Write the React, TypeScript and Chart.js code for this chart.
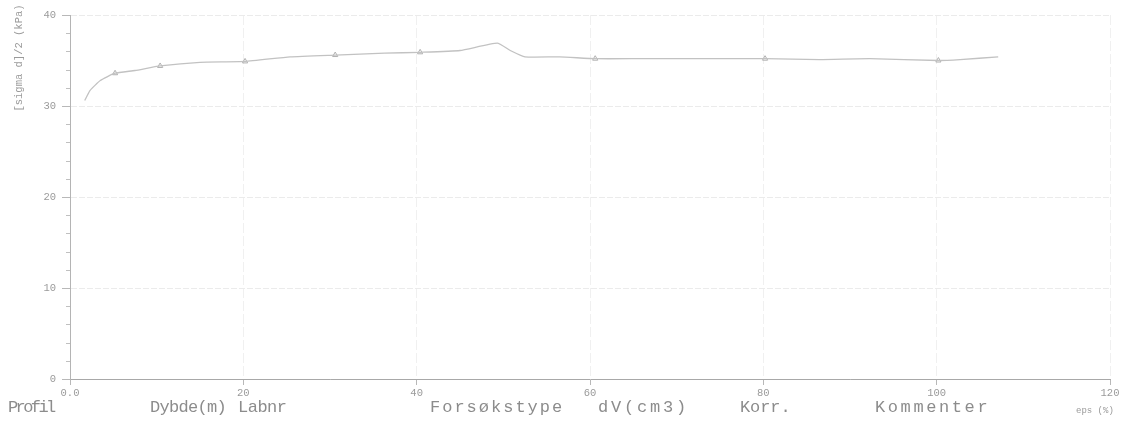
import React, { useEffect, useRef } from "react";
import { Chart, registerables } from "chart.js";
Chart.register(...registerables);

const epsValues: number[] = [1.7, 2.3, 3.5, 5.2, 7.5, 10.4, 15, 20.2, 25.4, 30.6, 36.3, 40.4, 45, 49.3, 50.8, 52.5, 56.5, 60.6, 65.8, 72.7, 80.2, 86.5, 92.3, 100.2, 102.7, 107.1];
const stressValues: number[] = [30.6, 31.7, 32.8, 33.6, 33.9, 34.4, 34.8, 34.9, 35.4, 35.6, 35.8, 35.9, 36.1, 36.9, 36.1, 35.4, 35.4, 35.2, 35.2, 35.2, 35.2, 35.1, 35.2, 35.0, 35.1, 35.4];
const markerEps: number[] = [5.2, 10.4, 20.2, 30.6, 40.4, 60.6, 80.2, 100.2];
const markerValues: number[] = [33.6, 34.4, 34.9, 35.6, 35.9, 35.2, 35.2, 35.0];
const xTickLabels: Record<number, string> = { 0: "0.0", 20: "20", 40: "40", 60: "60", 80: "80", 100: "100", 120: "120" };
const yTickLabels: Record<number, string> = { 0: "0", 10: "10", 20: "20", 30: "30", 40: "40" };
const headerLabels: string[] = ["Profil", "Dybde(m)", "Labnr", "Forsøkstype", "dV(cm3)", "Korr.", "Kommenter"];
const headerX: number[] = [8, 150, 238, 430, 598, 740, 875];
const headerSpacing: number[] = [-2.6, -0.7, -0.5, 2.0, 2.8, -0.1, 2.6];
const yTitle = "[sigma d]/2 (kPa)";
const xTitle = "eps (%)";

export default function App() {
  const ref = useRef<HTMLCanvasElement | null>(null);
  useEffect(() => {
    if (!ref.current) return;
    const extrasPlugin = {
      id: "extras",
      afterDraw(chart: any) {
        const ctx = chart.ctx;
        const ys = chart.scales.y;
        const left = chart.chartArea.left;
        ctx.save();
        ctx.strokeStyle = "#c0c0c0";
        ctx.lineWidth = 1;
        for (let v = 0; v <= 40; v += 2) {
          if (v % 10 === 0) continue;
          const py = Math.round(ys.getPixelForValue(v)) + 0.5;
          ctx.beginPath();
          ctx.moveTo(left - 4, py);
          ctx.lineTo(left, py);
          ctx.stroke();
        }
        ctx.translate(19, 58);
        ctx.rotate(-Math.PI / 2);
        ctx.font = "10.5px 'Liberation Mono', monospace";
        ctx.fillStyle = "#9a9a9a";
        ctx.textAlign = "center";
        ctx.textBaseline = "middle";
        ctx.fillText(yTitle, 0, 0);
        ctx.restore();
      },
    };
    const chart = new Chart(ref.current, {
      type: "line",
      data: {
        datasets: [
          {
            label: "curve",
            data: epsValues.map((x, i) => ({ x, y: stressValues[i] })),
            borderColor: "#c2c2c2",
            borderWidth: 1.3,
            pointRadius: 0,
            tension: 0.15,
          },
          {
            label: "markers",
            data: markerEps.map((x, i) => ({ x, y: markerValues[i] })),
            showLine: false,
            pointStyle: "triangle",
            pointRadius: 3,
            borderColor: "#b0b0b0",
            backgroundColor: "rgba(0,0,0,0)",
            borderWidth: 1,
          },
        ],
      },
      options: {
        animation: false,
        responsive: false,
        maintainAspectRatio: false,
        layout: { padding: { top: 15, right: 27, left: 0, bottom: 0 } },
        plugins: { legend: { display: false }, tooltip: { enabled: false } },
        scales: {
          x: {
            type: "linear",
            min: 0,
            max: 120,
            afterFit: (s: any) => { s.height = 55; },
            ticks: {
              stepSize: 20,
              color: "#9a9a9a",
              font: { family: "'Liberation Mono', monospace", size: 10.5 },
              padding: 2,
              maxRotation: 0,
              callback: (v: any) => xTickLabels[v] ?? "",
            },
            grid: { color: "#f0f0f0", tickLength: 6, tickColor: "#b8b8b8" },
            border: { color: "#a8a8a8", dash: [10, 3] },
          },
          y: {
            min: 0,
            max: 40,
            afterFit: (s: any) => { s.width = 70; },
            ticks: {
              stepSize: 10,
              color: "#9a9a9a",
              font: { family: "'Liberation Mono', monospace", size: 10.5 },
              padding: 6,
              callback: (v: any) => yTickLabels[v] ?? "",
            },
            grid: { color: "#ebebeb", tickLength: 8, tickColor: "#b8b8b8" },
            border: { color: "#b4b4b4", dash: [6, 2] },
          },
        },
      },
      plugins: [extrasPlugin],
    });
    return () => chart.destroy();
  }, []);
  return (
    <div style={{ position: "absolute", left: 0, top: 0, width: 1137, height: 434, background: "#fff" }}>
      <canvas ref={ref} width={1137} height={434} style={{ position: "absolute", left: 0, top: 0, width: 1137, height: 434 }} />
      {headerLabels.map((t, i) => (
        <div key={t} style={{ position: "absolute", left: headerX[i], top: 398, font: "17px 'Liberation Mono', monospace", letterSpacing: headerSpacing[i], color: "#8c8c8c", whiteSpace: "nowrap" }}>{t}</div>
      ))}
      <div style={{ position: "absolute", left: 1076, top: 406, font: "9px 'Liberation Mono', monospace", color: "#9a9a9a", whiteSpace: "nowrap" }}>{xTitle}</div>
    </div>
  );
}
